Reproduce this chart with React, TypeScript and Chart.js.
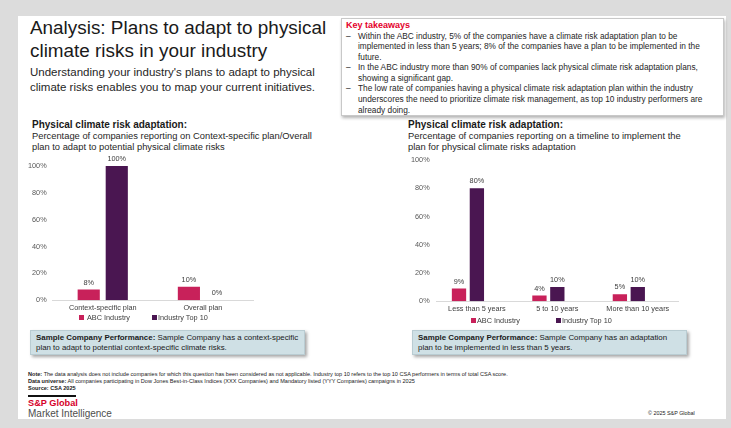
import React, { useEffect, useRef } from 'react';
import { Chart, registerables } from 'chart.js';

Chart.register(...registerables);

const FONT = '"Liberation Sans", Arial, Helvetica, sans-serif';
const ABC_COLOR = '#c8215a';
const TOP10_COLOR = '#4a1651';

// Left chart: context-specific vs overall plan
const planCategories = ['Context-specific plan', 'Overall plan'];
const planAbc = [8, 10];
const planTop10 = [100, 0];

// Right chart: implementation timeline
const timelineCategories = ['Less than 5 years', '5 to 10 years', 'More than 10 years'];
const timelineAbc = [9, 4, 5];
const timelineTop10 = [80, 10, 10];

const yTicks = [0, 20, 40, 60, 80, 100];
const seriesNames = ['ABC Industry', 'Industry Top 10'];

// Value labels above each bar
const valueLabels = {
  id: 'valueLabels',
  afterDatasetsDraw(chart: any) {
    const { ctx } = chart;
    ctx.save();
    ctx.font = `7.3px ${FONT}`;
    ctx.fillStyle = '#404040';
    ctx.textAlign = 'center';
    ctx.textBaseline = 'alphabetic';
    chart.data.datasets.forEach((ds: any, i: number) => {
      if (!ds.label) return;
      const meta = chart.getDatasetMeta(i);
      meta.data.forEach((bar: any, j: number) => {
        const v = ds.data[j];
        if (v == null) return;
        ctx.fillText(`${v}%`, bar.x, bar.y - 5);
      });
    });
    ctx.restore();
  }
};

interface BarChartProps {
  categories: string[];
  abc: number[];
  top10: number[];
  spacer?: boolean;
  left: number;
  top: number;
  width: number;
  height: number;
  tickPadding: number;
  categoryPercentage: number;
  barPercentage: number;
}

const BarChart: React.FC<BarChartProps> = (props) => {
  const chartRef = useRef<HTMLCanvasElement>(null);

  useEffect(() => {
    if (!chartRef.current) return;
    const ctx = chartRef.current.getContext('2d');
    if (!ctx) return;

    const common = {
      categoryPercentage: props.categoryPercentage,
      barPercentage: props.barPercentage
    };
    const datasets: any[] = [
      { label: seriesNames[0], data: props.abc, backgroundColor: ABC_COLOR, ...common },
      { label: seriesNames[1], data: props.top10, backgroundColor: TOP10_COLOR, ...common }
    ];
    // the source chart keeps an empty third slot in each group
    if (props.spacer) {
      datasets.push({ label: '', data: props.categories.map(() => null), backgroundColor: 'transparent', ...common });
    }

    const chart = new Chart(ctx, {
      type: 'bar',
      data: { labels: props.categories, datasets },
      options: {
        animation: false,
        responsive: false,
        maintainAspectRatio: false,
        layout: { padding: { top: 17, right: 8, bottom: 0, left: 0 } },
        plugins: {
          legend: { display: false },
          tooltip: { enabled: false }
        },
        scales: {
          x: {
            grid: { display: false, drawTicks: false },
            border: { display: true, color: '#d9d9d9', width: 1 },
            ticks: {
              color: '#404040',
              font: { family: FONT, size: 7.3 },
              padding: 3,
              maxRotation: 0,
              autoSkip: false
            }
          },
          y: {
            min: 0,
            max: 100,
            afterBuildTicks: (axis: any) => {
              axis.ticks = yTicks.map((v) => ({ value: v }));
            },
            grid: { display: false, drawTicks: false },
            border: { display: false },
            ticks: {
              color: '#595959',
              font: { family: FONT, size: 7.3 },
              padding: props.tickPadding,
              callback: (v: any) => `${v}%`
            }
          }
        }
      },
      plugins: [valueLabels]
    });

    return () => {
      chart.destroy();
    };
  }, []);

  return (
    <canvas
      ref={chartRef}
      width={props.width}
      height={props.height}
      style={{ position: 'absolute', left: props.left, top: props.top, width: props.width, height: props.height }}
    />
  );
};

const LegendItem: React.FC<{ left: number; top: number; color: string; text: string; space?: boolean }> = ({ left, top, color, text, space }) => (
  <div style={{ position: 'absolute', left, top, fontSize: 7.3, lineHeight: '9px', color: '#404040', whiteSpace: 'nowrap', display: 'flex', alignItems: 'center' }}>
    <span style={{ display: 'inline-block', width: 5, height: 5, background: color, marginRight: space ? 3 : 1 }} />
    {text}
  </div>
);

const SampleBox: React.FC<{ left: number; width: number; children: React.ReactNode }> = ({ left, width, children }) => (
  <div
    style={{
      position: 'absolute',
      left,
      top: 330,
      width,
      height: 25,
      boxSizing: 'border-box',
      background: '#cfe0e5',
      border: '1px solid #b9ccd2',
      boxShadow: '2px 2px 3px rgba(0,0,0,0.35)',
      padding: '2px 5px',
      fontSize: 7.9,
      lineHeight: '10px',
      color: '#1a1a1a',
      whiteSpace: 'nowrap'
    }}
  >
    {children}
  </div>
);

const takeaways = [
  ['Within the ABC industry, 5% of the companies have a climate risk adaptation plan to be', 'implemented in less than 5 years; 8% of the companies have a plan to be implemented in the', 'future.'],
  ['In the ABC industry more than 90% of companies lack physical climate risk adaptation plans,', 'showing a significant gap.'],
  ['The low rate of companies having a physical climate risk adaptation plan within the industry', 'underscores the need to prioritize climate risk management, as top 10 industry performers are', 'already doing.']
];

const App: React.FC = () => {
  return (
    <div style={{ position: 'fixed', left: 0, top: 0, width: 731, height: 428, background: '#dcdcdc', overflow: 'hidden', fontFamily: FONT, color: '#1a1a1a' }}>
      <div style={{ position: 'absolute', left: 18, top: 16, width: 708, height: 403, background: '#ffffff' }} />

      <div style={{ position: 'absolute', left: 30, top: 16, fontSize: 18.9, lineHeight: '23px', whiteSpace: 'nowrap' }}>
        Analysis: Plans to adapt to physical<br />climate risks in your industry
      </div>
      <div style={{ position: 'absolute', left: 30, top: 65, fontSize: 11.5, lineHeight: '15px', whiteSpace: 'nowrap', color: '#262626' }}>
        Understanding your industry's plans to adapt to physical<br />climate risks enables you to map your current initiatives.
      </div>

      <div style={{ position: 'absolute', left: 341, top: 18, width: 383, height: 98, boxSizing: 'border-box', background: '#fff', border: '1px solid #c8c8c8', boxShadow: '1px 2px 3px rgba(0,0,0,0.3)', padding: '1px 4px' }}>
        <div style={{ color: '#e4002b', fontWeight: 'bold', fontSize: 9, lineHeight: '10.5px' }}>Key takeaways</div>
        {takeaways.map((lines, i) => (
          <div key={i} style={{ position: 'relative', paddingLeft: 12, fontSize: 8.3, lineHeight: '10.6px', color: '#262626', whiteSpace: 'nowrap' }}>
            <span style={{ position: 'absolute', left: 0 }}>–</span>
            {lines.map((l, j) => (
              <div key={j}>{l}</div>
            ))}
          </div>
        ))}
      </div>

      <div style={{ position: 'absolute', left: 32, top: 118.5, whiteSpace: 'nowrap' }}>
        <div style={{ fontWeight: 'bold', fontSize: 10, lineHeight: '12px' }}>Physical climate risk adaptation:</div>
        <div style={{ fontSize: 9.35, lineHeight: '11.5px', color: '#262626' }}>
          Percentage of companies reporting on Context-specific plan/Overall<br />plan to adapt to potential physical climate risks
        </div>
      </div>
      <div style={{ position: 'absolute', left: 408, top: 118.5, whiteSpace: 'nowrap' }}>
        <div style={{ fontWeight: 'bold', fontSize: 10, lineHeight: '12px' }}>Physical climate risk adaptation:</div>
        <div style={{ fontSize: 9.35, lineHeight: '11.5px', color: '#262626' }}>
          Percentage of companies reporting on a timeline to implement the<br />plan for physical climate risks adaptation
        </div>
      </div>

      <BarChart
        categories={planCategories}
        abc={planAbc}
        top10={planTop10}
        left={22}
        top={149}
        width={239}
        height={166}
        tickPadding={6}
        categoryPercentage={0.56}
        barPercentage={0.79}
      />
      <BarChart
        categories={timelineCategories}
        abc={timelineAbc}
        top10={timelineTop10}
        spacer
        left={404}
        top={143}
        width={282}
        height={173}
        tickPadding={7}
        categoryPercentage={0.667}
        barPercentage={0.8}
      />

      <LegendItem left={79} top={312.5} color={ABC_COLOR} text={seriesNames[0]} space />
      <LegendItem left={152} top={312.5} color={TOP10_COLOR} text={seriesNames[1]} />
      <LegendItem left={471} top={315.5} color={ABC_COLOR} text={seriesNames[0]} />
      <LegendItem left={556} top={315.5} color={TOP10_COLOR} text={seriesNames[1]} />

      <SampleBox left={30} width={275}>
        <b>Sample Company Performance:</b> Sample Company has a context-specific<br />plan to adapt to potential context-specific climate risks.
      </SampleBox>
      <SampleBox left={412} width={275}>
        <b>Sample Company Performance:</b> Sample Company has an adaptation<br />plan to be implemented in less than 5 years.
      </SampleBox>

      <div style={{ position: 'absolute', left: 28, top: 370.5, fontSize: 5.55, lineHeight: '7px', whiteSpace: 'nowrap', color: '#1a1a1a' }}>
        <div><b>Note:</b> The data analysis does not include companies for which this question has been considered as not applicable. Industry top 10 refers to the top 10 CSA performers in terms of total CSA score.</div>
        <div><b>Data universe:</b> All companies participating in Dow Jones Best-in-Class Indices  (XXX Companies) and Mandatory listed (YYY Companies) campaigns in 2025</div>
        <div><b>Source: CSA 2025</b></div>
      </div>

      <div style={{ position: 'absolute', left: 28, top: 395, width: 48, height: 1.5, background: '#111' }} />
      <div style={{ position: 'absolute', left: 28, top: 397.5, fontSize: 9.2, lineHeight: '11px', fontWeight: 'bold', color: '#d6002a', whiteSpace: 'nowrap' }}>
        S&amp;P Global
      </div>
      <div style={{ position: 'absolute', left: 28, top: 408, fontSize: 10, lineHeight: '12px', color: '#4d4d4d', whiteSpace: 'nowrap' }}>
        Market Intelligence
      </div>
      <div style={{ position: 'absolute', left: 648, top: 410, fontSize: 5.4, lineHeight: '7px', color: '#1a1a1a', whiteSpace: 'nowrap' }}>
        © 2025 S&amp;P Global
      </div>
    </div>
  );
};

export default App;
